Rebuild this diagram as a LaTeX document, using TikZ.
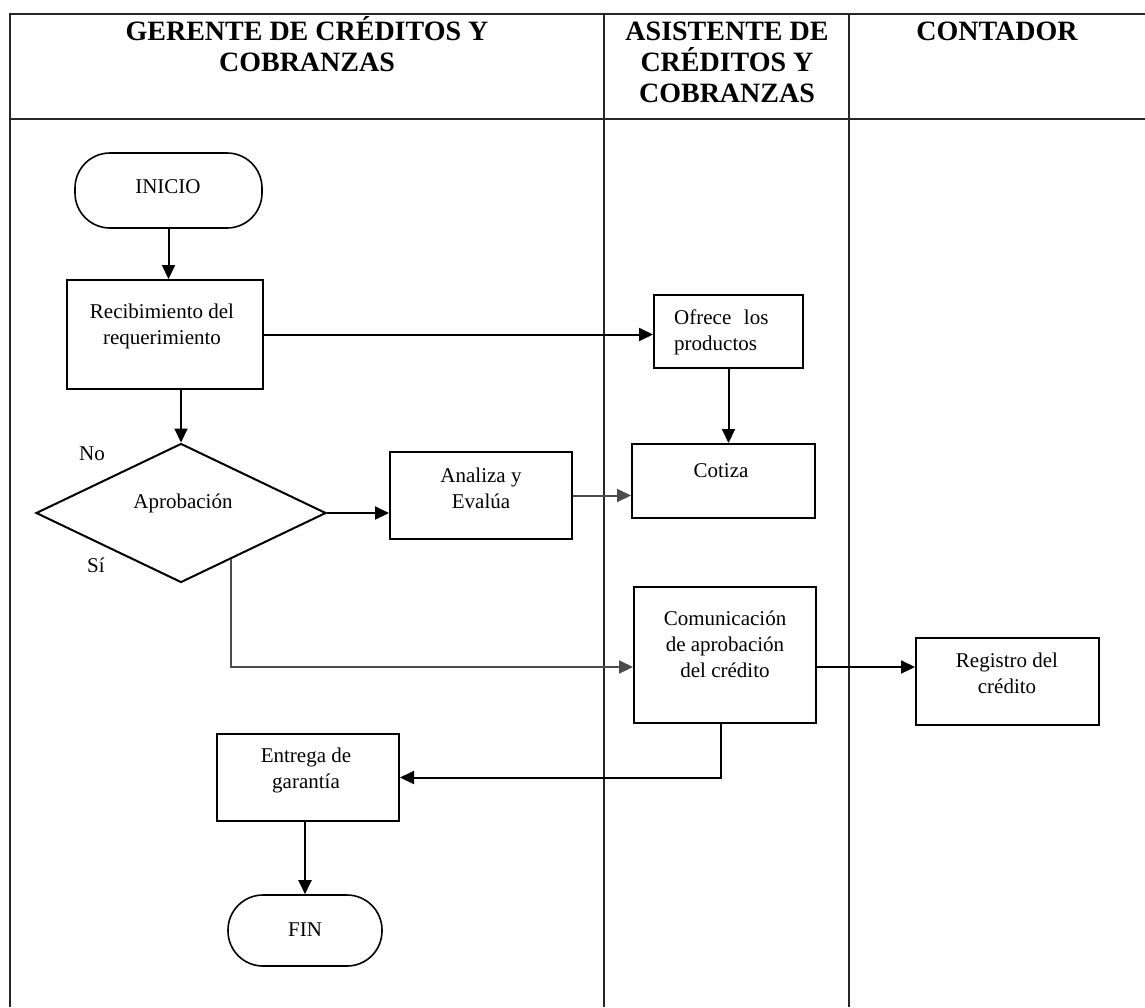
\documentclass[tikz,border=0pt]{standalone}
\usepackage{fontspec}
\setmainfont{Liberation Serif}
\usetikzlibrary{shapes.geometric,arrows.meta,calc}

\begin{document}
\begin{tikzpicture}[x=1pt,y=-1pt,
  frame/.style={line width=2.6pt, black!85},
  lane/.style={line width=2pt, black!85},
  box/.style={draw, line width=2pt, rectangle, inner sep=0pt},
  term/.style={draw, line width=1.6pt, rectangle, rounded corners=35pt, inner sep=0pt},
  decision/.style={draw, line width=2pt, diamond, inner sep=0pt},
  lbl/.style={font=\fontsize{21}{26}\selectfont, align=center, anchor=base, inner sep=0pt},
  head/.style={font=\fontsize{28}{31}\selectfont\bfseries, align=center, anchor=base, inner sep=0pt},
  flow/.style={line width=2pt, -{Triangle[length=14pt,width=13pt]}},
  flowgray/.style={flow, black!70},
]
\useasboundingbox (0,0) rectangle (1145,1007);

% swimlane frame
\draw[frame] (1145,14) -- (10,14) -- (10,1007);
\draw[frame] (10,119) -- (1145,119);
\draw[lane] (604,14) -- (604,1007);
\draw[lane] (849,14) -- (849,1007);

% lane titles (base anchor = baseline of the last line)
\node[head] (h1) at (307,71) {GERENTE DE CRÉDITOS Y\\COBRANZAS};
\node[head] (h2) at (727,102) {ASISTENTE DE\\CRÉDITOS Y\\COBRANZAS};
\node[head] (h3) at (997,40) {CONTADOR};

% shapes
\node[term, minimum width=187pt, minimum height=75pt] (ini) at (168.5,190.5) {};
\node[box, minimum width=196pt, minimum height=109pt] (rec) at (165,334.5) {};
\node[decision, minimum width=290pt, minimum height=139pt] (dia) at (181,513) {};
\node[box, minimum width=182pt, minimum height=87pt] (ana) at (481,495.5) {};
\node[box, minimum width=149pt, minimum height=73pt] (ofr) at (728.5,331.5) {};
\node[box, minimum width=183pt, minimum height=74pt] (cot) at (723.5,481) {};
\node[box, minimum width=182pt, minimum height=136pt] (com) at (725,655) {};
\node[box, minimum width=183pt, minimum height=87pt] (reg) at (1007.5,681.5) {};
\node[box, minimum width=182pt, minimum height=87pt] (ent) at (308,777.5) {};
\node[term, minimum width=154pt, minimum height=71pt] (fin) at (305,930.5) {};

% texts (base anchor = baseline of the last line)
\node[lbl] (tini) at (168,193) {INICIO};
\node[lbl] (trec) at (162,344) {Recibimiento del\\requerimiento};
\node[lbl] (tdia) at (183,508) {Aprobación};
\node[lbl] (tno) at (92,460) {No};
\node[lbl] (tsi) at (96,572) {Sí};
\node[lbl] (tana) at (481,508) {Analiza y\\Evalúa};
\node[lbl, align=left, anchor=base west] (tofr) at (674,350) {Ofrece\hspace{0.35em} los\\productos};
\node[lbl] (tcot) at (721,477) {Cotiza};
\node[lbl] (tcom) at (725,677) {Comunicación\\de aprobación\\del crédito};
\node[lbl] (treg) at (1007,693) {Registro del\\crédito};
\node[lbl] (tent) at (306,788) {Entrega de\\garantía};
\node[lbl] (tfin) at (305,936) {FIN};

% connectors
\coordinate (sifrom) at ($(dia.south)!0.342!(dia.east)$);
\coordinate (comin) at ([yshift=-12pt]com.west);
\coordinate (comout) at ([yshift=-12pt]com.east);
\coordinate (comdown) at ([xshift=-4pt]com.south);

\draw[flow] (ini.south) -- (ini.south |- rec.north);
\draw[flow] (rec.east) -- (rec.east -| ofr.west);
\draw[flow] (dia.north |- rec.south) -- (dia.north);
\draw[flow] (ofr.south) -- (ofr.south |- cot.north);
\draw[flow] (dia.east) -- (dia.east -| ana.west);
\draw[flowgray] (ana.east) -- (ana.east -| cot.west);
\draw[flowgray] (sifrom) |- (comin);
\draw[flow] (comout) -- (comout -| reg.west);
\draw[flow] (comdown) |- (ent.east);
\draw[flow] (fin.north |- ent.south) -- (fin.north);
\end{tikzpicture}
\end{document}
